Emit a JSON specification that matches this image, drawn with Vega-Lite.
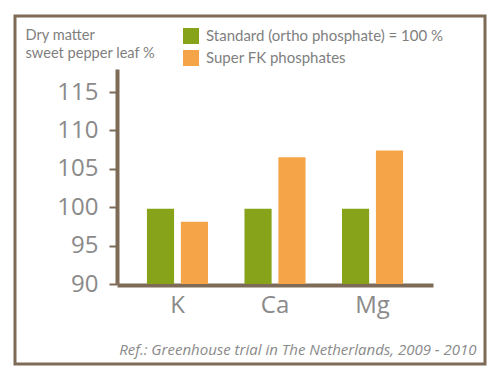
{
  "$schema": "https://vega.github.io/schema/vega-lite/v6.json",
  "autosize": {"type": "none"},
  "padding": {"left": 15, "top": 16, "right": 15, "bottom": 17},
  "width": 470,
  "height": 348,
  "background": "white",
  "config": {
    "view": {"stroke": "#7d6b57", "strokeWidth": 3, "fill": "white"},
    "font": "Open Sans"
  },
  "data": {
    "values": [
      {"element": "K", "treatment": "Standard (ortho phosphate)  = 100 %", "value": 99.8},
      {"element": "K", "treatment": "Super FK phosphates", "value": 98.1},
      {"element": "Ca", "treatment": "Standard (ortho phosphate)  = 100 %", "value": 99.8},
      {"element": "Ca", "treatment": "Super FK phosphates", "value": 106.5},
      {"element": "Mg", "treatment": "Standard (ortho phosphate)  = 100 %", "value": 99.8},
      {"element": "Mg", "treatment": "Super FK phosphates", "value": 107.4}
    ]
  },
  "mark": {"type": "bar"},
  "encoding": {
    "x": {
      "field": "element",
      "type": "nominal",
      "sort": ["K", "Ca", "Mg"],
      "scale": {"range": [102, 418], "paddingInner": 0.374, "paddingOuter": 0.307},
      "axis": {
        "offset": -79,
        "labelAngle": 0,
        "ticks": false,
        "domainColor": "#7d6b57",
        "domainWidth": 4,
        "labelFontSize": 24,
        "labelColor": "#8a8a8a",
        "labelPadding": 8,
        "title": "Ref.: Greenhouse trial in The Netherlands, 2009 - 2010",
        "titleFontStyle": "italic",
        "titleFontWeight": "normal",
        "titleFontSize": 15,
        "titleColor": "#8a8a8a",
        "titleX": 461,
        "titleY": 69,
        "titleAlign": "right",
        "titleAnchor": null,
        "titleBaseline": "alphabetic"
      }
    },
    "xOffset": {
      "field": "treatment",
      "type": "nominal",
      "sort": ["Standard (ortho phosphate)  = 100 %", "Super FK phosphates"],
      "scale": {"paddingInner": 0.2, "paddingOuter": 0}
    },
    "y": {
      "field": "value",
      "type": "quantitative",
      "scale": {"domain": [90, 118], "zero": false, "nice": false, "range": [268, 53]},
      "axis": {
        "offset": -102,
        "values": [90, 95, 100, 105, 110, 115],
        "grid": false,
        "domainColor": "#7d6b57",
        "domainWidth": 4,
        "tickColor": "#7d6b57",
        "tickWidth": 2,
        "tickSize": 8,
        "labelPadding": 11,
        "labelFontSize": 24,
        "labelColor": "#8a8a8a",
        "title": ["Dry matter", "sweet pepper leaf %"],
        "titleFont": "Lato",
        "titleAngle": 0,
        "titleAlign": "left",
        "titleBaseline": "alphabetic",
        "titleFontWeight": "normal",
        "titleFontSize": 14.6,
        "titleLineHeight": 18,
        "titleColor": "#808080",
        "titleX": -92,
        "titleY": 23,
        "titleAnchor": null
      }
    },
    "y2": {"datum": 90},
    "color": {
      "field": "treatment",
      "type": "nominal",
      "sort": ["Standard (ortho phosphate)  = 100 %", "Super FK phosphates"],
      "scale": {"range": ["#86a319", "#f5a447"]},
      "legend": {
        "title": null,
        "orient": "none",
        "legendX": 168,
        "legendY": 12,
        "padding": 0,
        "symbolType": "square",
        "symbolSize": 256,
        "symbolStrokeWidth": 0,
        "symbolOpacity": 1,
        "rowPadding": 6,
        "labelOffset": 7,
        "labelFont": "Lato",
        "labelFontSize": 15,
        "labelColor": "#808080",
        "labelLimit": 400
      }
    }
  }
}
